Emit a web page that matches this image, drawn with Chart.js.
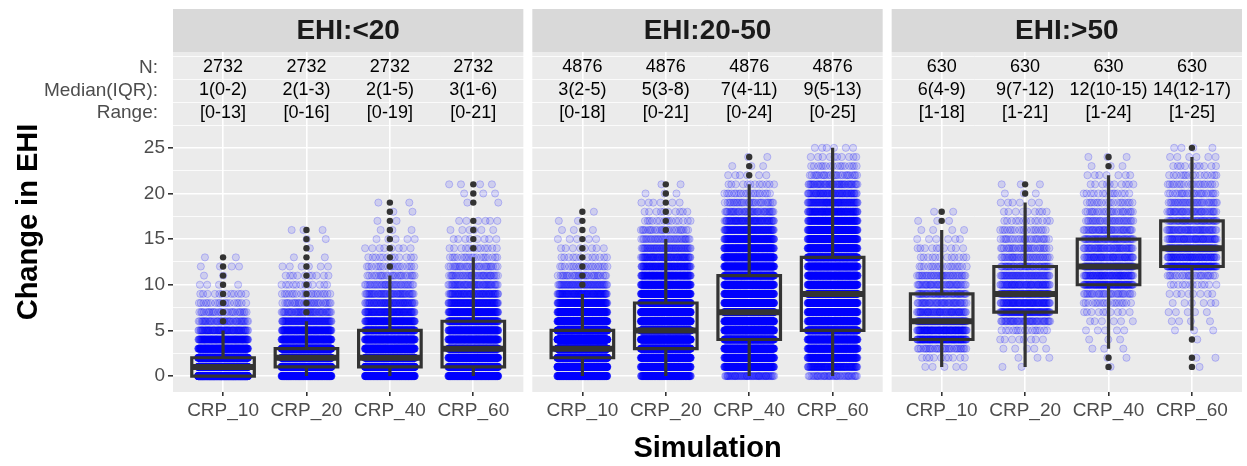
<!DOCTYPE html>
<html>
<head>
<meta charset="utf-8">
<script src="https://cdn.jsdelivr.net/npm/chart.js@4.4.1/dist/chart.umd.min.js"></script>
<style>
  html, body { margin: 0; padding: 0; background: #fff; }
</style>
</head>
<body>
<canvas id="ehi-chart" width="1247" height="466"></canvas>
<script>
// DATA
const panels = ["EHI:<20", "EHI:20-50", "EHI:>50"];
const categories = ["CRP_10", "CRP_20", "CRP_40", "CRP_60"];
const rowLabels = ["N:", "Median(IQR):", "Range:"];

const nLabels = [
  ["2732", "2732", "2732", "2732"],
  ["4876", "4876", "4876", "4876"],
  ["630", "630", "630", "630"],
];
const medianLabels = [
  ["1(0-2)", "2(1-3)", "2(1-5)", "3(1-6)"],
  ["3(2-5)", "5(3-8)", "7(4-11)", "9(5-13)"],
  ["6(4-9)", "9(7-12)", "12(10-15)", "14(12-17)"],
];
const rangeLabels = [
  ["[0-13]", "[0-16]", "[0-19]", "[0-21]"],
  ["[0-18]", "[0-21]", "[0-24]", "[0-25]"],
  ["[1-18]", "[1-21]", "[1-24]", "[1-25]"],
];

// box statistics, per panel, per category
const q1 = [[0, 1, 1, 1], [2, 3, 4, 5], [4, 7, 10, 12]];
const median = [[1, 2, 2, 3], [3, 5, 7, 9], [6, 9, 12, 14]];
const q3 = [[2, 3, 5, 6], [5, 8, 11, 13], [9, 12, 15, 17]];
const whiskerLow = [[0, 0, 0, 0], [0, 0, 0, 0], [1, 1, 3, 5]];
const whiskerHigh = [[5, 6, 11, 13], [9, 15, 21, 25], [16, 19, 22, 24]];
const outliers = [
  [[6, 7, 8, 9, 10, 11, 12, 13], [7, 8, 9, 10, 11, 12, 13, 14, 15, 16],
   [12, 13, 14, 15, 16, 17, 18, 19], [14, 15, 16, 17, 19, 20, 21]],
  [[10, 11, 12, 13, 14, 15, 16, 17, 18], [16, 17, 18, 19, 20, 21], [22, 23, 24], []],
  [[17, 18], [20, 21], [1, 2, 23, 24], [1, 2, 4, 25]],
];

// how many observations sit at each change value 0,1,2,... (estimated)
const counts = [
  [
    [907, 700, 500, 280, 150, 80, 45, 28, 18, 12, 4, 2, 4, 2],
    [446, 600, 560, 470, 260, 170, 90, 50, 30, 20, 12, 10, 6, 2, 1, 2, 3],
    [400, 550, 450, 350, 280, 220, 150, 100, 70, 50, 35, 25, 18, 12, 8, 5, 3, 2, 2, 2],
    [392, 430, 380, 330, 280, 230, 180, 150, 110, 75, 50, 38, 28, 18, 12, 8, 6, 6, 0, 2, 3, 4],
  ],
  [
    [350, 600, 800, 850, 700, 550, 380, 250, 160, 100, 55, 30, 20, 12, 8, 5, 3, 2, 1],
    [215, 300, 400, 500, 550, 550, 500, 450, 380, 300, 230, 160, 110, 80, 55, 35, 25, 15, 10, 6, 3, 2],
    [60, 230, 290, 350, 360, 380, 390, 380, 360, 330, 300, 270, 290, 240, 190, 150, 110, 78, 45, 30, 20, 12, 6, 3, 2],
    [40, 120, 200, 260, 300, 300, 320, 330, 330, 320, 300, 280, 260, 300, 260, 225, 190, 155, 120, 92, 67, 49, 26, 16, 10, 6],
  ],
  [
    [0, 5, 10, 30, 115, 100, 90, 60, 45, 45, 40, 35, 18, 12, 10, 6, 4, 3, 2],
    [0, 2, 3, 5, 8, 15, 45, 85, 80, 80, 65, 55, 45, 35, 30, 25, 18, 13, 9, 6, 3, 3],
    [0, 1, 2, 3, 3, 5, 6, 10, 18, 30, 85, 70, 85, 60, 50, 50, 40, 32, 25, 18, 14, 10, 7, 3, 3],
    [0, 1, 2, 0, 1, 3, 4, 5, 6, 8, 12, 25, 100, 70, 85, 60, 50, 45, 40, 33, 25, 20, 15, 10, 6, 4],
  ],
];

// LAYOUT
const FONT = '"Liberation Sans", Arial, sans-serif';
const SPAN = 4.2;      // width of one facet in category units
const GAP = 0.1076;    // white gap between facets
const BOX_HALF = 0.375;
const JITTER = 0.3;
const ROW_Y = [33.8, 31.3, 28.8];
const STRIP_TOP = 9;

function xCenter(p, c) {
  return p * (SPAN + GAP) + c + 1;
}

const jitterPts = [];
const boxPts = [];
const whiskerPts = [];
const medianPts = [];
const outlierPts = [];

panels.forEach(function (name, p) {
  categories.forEach(function (cat, c) {
    const x = xCenter(p, c);
    counts[p][c].forEach(function (n, v) {
      for (let j = 0; j < n; j++) {
        const f = (j * 0.6180339887 + v * 0.3183 + c * 0.1111) % 1;
        jitterPts.push({ x: x + (f * 2 - 1) * JITTER, y: v });
      }
    });
    const l = x - BOX_HALF, r = x + BOX_HALF;
    boxPts.push({ x: l, y: q1[p][c] }, { x: r, y: q1[p][c] }, { x: r, y: q3[p][c] },
      { x: l, y: q3[p][c] }, { x: l, y: q1[p][c] }, { x: l, y: null });
    whiskerPts.push({ x: x, y: q3[p][c] }, { x: x, y: whiskerHigh[p][c] }, { x: x, y: null },
      { x: x, y: whiskerLow[p][c] }, { x: x, y: q1[p][c] }, { x: x, y: null });
    medianPts.push({ x: l, y: median[p][c] }, { x: r, y: median[p][c] }, { x: r, y: null });
    outliers[p][c].forEach(function (v) {
      outlierPts.push({ x: x, y: v });
    });
  });
});

const centers = [];
panels.forEach(function (name, p) {
  categories.forEach(function (cat, c) {
    centers.push(xCenter(p, c));
  });
});

const yGrid = [];
for (let v = 0; v <= 35; v += 2.5) yGrid.push(v);

function isMajor(v) {
  return v % 5 === 0 && v <= 25;
}

// facet strips, panel backgrounds, text rows
const facetPlugin = {
  id: "facets",
  beforeDraw(chart) {
    const { ctx, chartArea: a, scales } = chart;
    ctx.save();
    panels.forEach(function (name, p) {
      const left = scales.x.getPixelForValue(p * (SPAN + GAP) + 0.4);
      const right = scales.x.getPixelForValue(p * (SPAN + GAP) + 0.4 + SPAN);
      ctx.fillStyle = "#EBEBEB";
      ctx.fillRect(left, a.top, right - left, a.bottom - a.top);
      ctx.fillStyle = "#D9D9D9";
      ctx.fillRect(left, STRIP_TOP, right - left, a.top - STRIP_TOP);
      ctx.fillStyle = "#1A1A1A";
      ctx.font = "bold 28px " + FONT;
      ctx.textAlign = "center";
      ctx.textBaseline = "middle";
      ctx.fillText(name, (left + right) / 2, (STRIP_TOP + a.top) / 2 + 1);
    });
    ctx.restore();
  },
  afterDraw(chart) {
    const { ctx, chartArea: a, scales } = chart;
    const rows = [nLabels, medianLabels, rangeLabels];
    ctx.save();
    ctx.textBaseline = "middle";
    ctx.font = "19px " + FONT;
    ctx.fillStyle = "#4D4D4D";
    ctx.textAlign = "right";
    rowLabels.forEach(function (t, r) {
      ctx.fillText(t, a.left - 15, scales.y.getPixelForValue(ROW_Y[r]));
    });
    ctx.font = "18px " + FONT;
    ctx.fillStyle = "#000000";
    ctx.textAlign = "center";
    rows.forEach(function (row, r) {
      panels.forEach(function (name, p) {
        categories.forEach(function (cat, c) {
          ctx.fillText(row[p][c], scales.x.getPixelForValue(xCenter(p, c)),
            scales.y.getPixelForValue(ROW_Y[r]));
        });
      });
    });
    ctx.restore();
  },
};

new Chart(document.getElementById("ehi-chart"), {
  type: "scatter",
  data: {
    datasets: [
      {
        label: "jitter",
        data: jitterPts,
        order: 5,
        pointRadius: 3.6,
        pointBorderWidth: 1,
        backgroundColor: "rgba(0, 0, 255, 0.12)",
        borderColor: "rgba(0, 0, 255, 0.2)",
      },
      {
        label: "boxes",
        type: "line",
        data: boxPts,
        order: 2,
        borderColor: "#333333",
        borderWidth: 3.2,
        borderCapStyle: "square",
        borderJoinStyle: "miter",
        pointRadius: 0,
        spanGaps: false,
        fill: false,
        tension: 0,
      },
      {
        label: "whiskers",
        type: "line",
        data: whiskerPts,
        order: 2,
        borderColor: "#333333",
        borderWidth: 3.2,
        pointRadius: 0,
        spanGaps: false,
        fill: false,
        tension: 0,
      },
      {
        label: "medians",
        type: "line",
        data: medianPts,
        order: 1,
        borderColor: "#333333",
        borderWidth: 6,
        pointRadius: 0,
        spanGaps: false,
        fill: false,
        tension: 0,
      },
      {
        label: "outliers",
        data: outlierPts,
        order: 0,
        pointRadius: 3.2,
        pointBorderWidth: 0,
        backgroundColor: "#333333",
        borderColor: "#333333",
      },
    ],
  },
  options: {
    responsive: false,
    animation: false,
    events: [],
    layout: { padding: { top: 52, right: 2, left: 0, bottom: 0 } },
    plugins: {
      legend: { display: false },
      tooltip: { enabled: false },
    },
    scales: {
      x: {
        type: "linear",
        min: 0.4,
        max: 2 * (SPAN + GAP) + SPAN + 0.4,
        afterBuildTicks: (scale) => {
          scale.ticks = centers.map((v) => ({ value: v }));
        },
        afterFit: (scale) => {
          scale.height = 74;
        },
        ticks: {
          autoSkip: false,
          maxRotation: 0,
          padding: 3,
          color: "#4D4D4D",
          font: { family: FONT, size: 19 },
          callback: (v, i) => categories[i % categories.length],
        },
        grid: {
          color: "#FFFFFF",
          lineWidth: 1.6,
          tickColor: "#333333",
          tickLength: 4,
          tickWidth: 1.6,
        },
        border: { display: false },
        title: {
          display: true,
          text: "Simulation",
          color: "#000000",
          font: { family: FONT, size: 29, weight: "bold" },
          padding: { top: 0, bottom: 0 },
        },
      },
      y: {
        min: -1.75,
        max: 35.5,
        afterBuildTicks: (scale) => {
          scale.ticks = yGrid.map((v) => ({ value: v }));
        },
        afterFit: (scale) => {
          scale.width = 173;
        },
        ticks: {
          autoSkip: false,
          padding: 3,
          color: "#4D4D4D",
          font: { family: FONT, size: 19 },
          callback: (v) => (isMajor(v) ? String(v) : ""),
        },
        grid: {
          color: "#FFFFFF",
          lineWidth: (ctx) => (ctx.tick && isMajor(ctx.tick.value) ? 1.6 : 0.8),
          tickColor: (ctx) => (ctx.tick && isMajor(ctx.tick.value) ? "#333333" : "rgba(0,0,0,0)"),
          tickLength: 5,
          tickWidth: 1.6,
        },
        border: { display: false },
        title: {
          display: true,
          text: "Change in EHI",
          color: "#000000",
          font: { family: FONT, size: 29, weight: "bold" },
          padding: { top: 12, bottom: 0 },
        },
      },
    },
  },
  plugins: [facetPlugin],
});
</script>
</body>
</html>
